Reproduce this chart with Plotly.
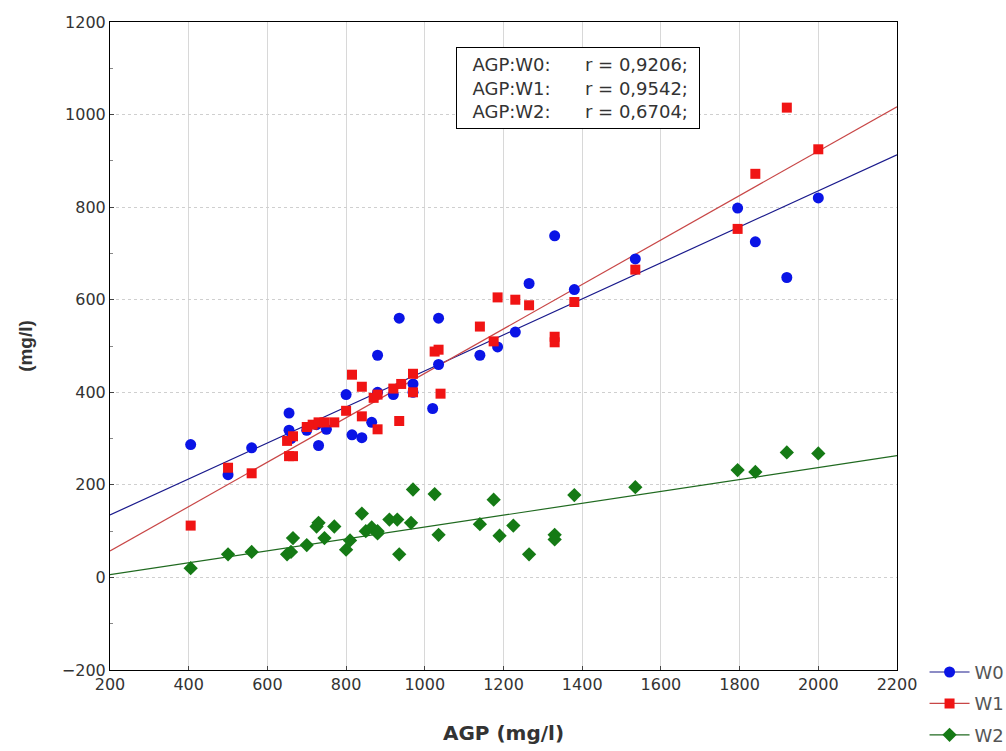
import plotly.graph_objects as go

# ---- data ----
w0_x = [405, 500, 560, 655, 655, 660, 700, 725, 730, 750, 800, 815, 840, 865, 880, 880, 920, 935, 970, 970,
        1020, 1035, 1035, 1140, 1185, 1230, 1265, 1330, 1380, 1535, 1795, 1840, 1920, 2000]
w0_y = [287, 222, 280, 355, 318, 300, 318, 330, 285, 320, 395, 308, 302, 335, 480, 400, 395, 560, 418, 400,
        365, 560, 460, 480, 498, 530, 635, 738, 622, 688, 798, 725, 648, 820]

w1_x = [405, 500, 560, 650, 655, 665, 665, 700, 715, 730, 745, 770, 800, 815, 840, 840, 870, 880, 880, 920,
        935, 940, 970, 970, 1025, 1035, 1040, 1140, 1175, 1185, 1230, 1265, 1330, 1330, 1380, 1535, 1795,
        1840, 1920, 2000]
w1_y = [112, 237, 225, 295, 262, 262, 305, 325, 330, 335, 335, 335, 360, 438, 412, 348, 388, 320, 395, 408,
        338, 418, 440, 400, 488, 492, 397, 542, 510, 605, 600, 588, 508, 520, 595, 665, 753,
        872, 1015, 925]

w2_x = [405, 500, 560, 650, 660, 665, 700, 725, 730, 745, 770, 800, 810, 840, 850, 865, 880, 880, 910, 930,
        935, 965, 970, 1025, 1035, 1140, 1175, 1190, 1225, 1265, 1330, 1330, 1380, 1535, 1795, 1840, 1920, 2000]
w2_y = [20, 50, 55, 50, 55, 85, 70, 110, 118, 85, 110, 60, 80, 138, 100, 108, 100, 95, 125, 125,
        50, 118, 190, 180, 92, 115, 168, 90, 112, 50, 92, 82, 178, 195, 232, 228, 270, 268]

# regression line end points
fit_x = [200, 2200]
fit_w0 = [135, 913]
fit_w1 = [57, 1017]
fit_w2 = [6, 263]

r_labels = ["AGP:W0:", "AGP:W1:", "AGP:W2:"]
r_values = ["r = 0,9206;", "r = 0,9542;", "r = 0,6704;"]

x_ticks = [200, 400, 600, 800, 1000, 1200, 1400, 1600, 1800, 2000, 2200]
y_ticks = [-200, 0, 200, 400, 600, 800, 1000, 1200]

series = [
    ("W0", w0_x, w0_y, fit_w0, "#0a14e6", "#1a1a8c", "circle", 11),
    ("W1", w1_x, w1_y, fit_w1, "#f01414", "#c84646", "square", 10),
    ("W2", w2_x, w2_y, fit_w2, "#157a15", "#206a20", "diamond", 11),
]

fig = go.Figure()
for name, xs, ys, fit, mcol, lcol, sym, size in series:
    fig.add_trace(go.Scatter(x=fit_x, y=fit, mode="lines", line=dict(color=lcol, width=1.2),
                             showlegend=False, hoverinfo="skip"))
for name, xs, ys, fit, mcol, lcol, sym, size in series:
    fig.add_trace(go.Scatter(x=xs, y=ys, mode="markers", name=name, showlegend=False,
                             marker=dict(color=mcol, symbol=sym, size=size, line=dict(width=0))))
for name, xs, ys, fit, mcol, lcol, sym, size in series:
    fig.add_trace(go.Scatter(x=[None], y=[None], mode="lines+markers", name=name, legendgroup=name,
                             line=dict(color=lcol, width=1.2),
                             marker=dict(color=mcol, symbol=sym, size=size)))

font_family = "DejaVu Sans, Verdana, sans-serif"
title_family = "Liberation Sans, Arial, sans-serif"

fig.update_layout(
    width=1006, height=751,
    margin=dict(l=110, r=109, t=22, b=81, autoexpand=False),
    paper_bgcolor="white", plot_bgcolor="white",
    font=dict(family=font_family, size=16, color="#333333"),
    showlegend=True,
    legend=dict(x=1.035, y=0.025, xanchor="left", yanchor="top", bgcolor="rgba(0,0,0,0)",
                font=dict(size=18, color="#555555"), tracegroupgap=5, itemwidth=40),
    xaxis=dict(range=[200, 2200], tickvals=x_ticks, showgrid=True, gridcolor="#d8d8d8", gridwidth=1,
               zeroline=False, showline=True, linecolor="black", linewidth=1, mirror=True,
               ticks="inside", ticklen=4, tickcolor="#444",
               title=dict(text="<b>AGP (mg/l)</b>", font=dict(size=20, color="#333333", family=font_family),
                          standoff=32),
               tickfont=dict(size=16, color="#333333")),
    yaxis=dict(range=[-200, 1200], tickvals=y_ticks, showgrid=True, gridcolor="#cfcfcf", gridwidth=1,
               griddash="dot", zeroline=False, showline=True, linecolor="black", linewidth=1, mirror=True,
               ticks="inside", ticklen=4, tickcolor="#444",
               minor=dict(dtick=100, ticks="inside", ticklen=3, tickcolor="#888", showgrid=False),
               title=dict(text="<b>(mg/l)</b>", font=dict(size=19, color="#333333", family=title_family),
                          standoff=24),
               tickfont=dict(size=16, color="#333333")),
)

gap = "&nbsp;" * 6
box_text = "<br>".join(f"&nbsp;&nbsp;{a}{gap}{b}" for a, b in zip(r_labels, r_values))
fig.add_annotation(
    xref="x", yref="y", x=1389, y=1147, xanchor="center", yanchor="top",
    text=box_text, showarrow=False, align="left", width=234, height=72,
    font=dict(size=18, color="#333333", family=font_family),
    bordercolor="black", borderwidth=1, borderpad=4, bgcolor="white",
)

fig.write_html("out.html")
